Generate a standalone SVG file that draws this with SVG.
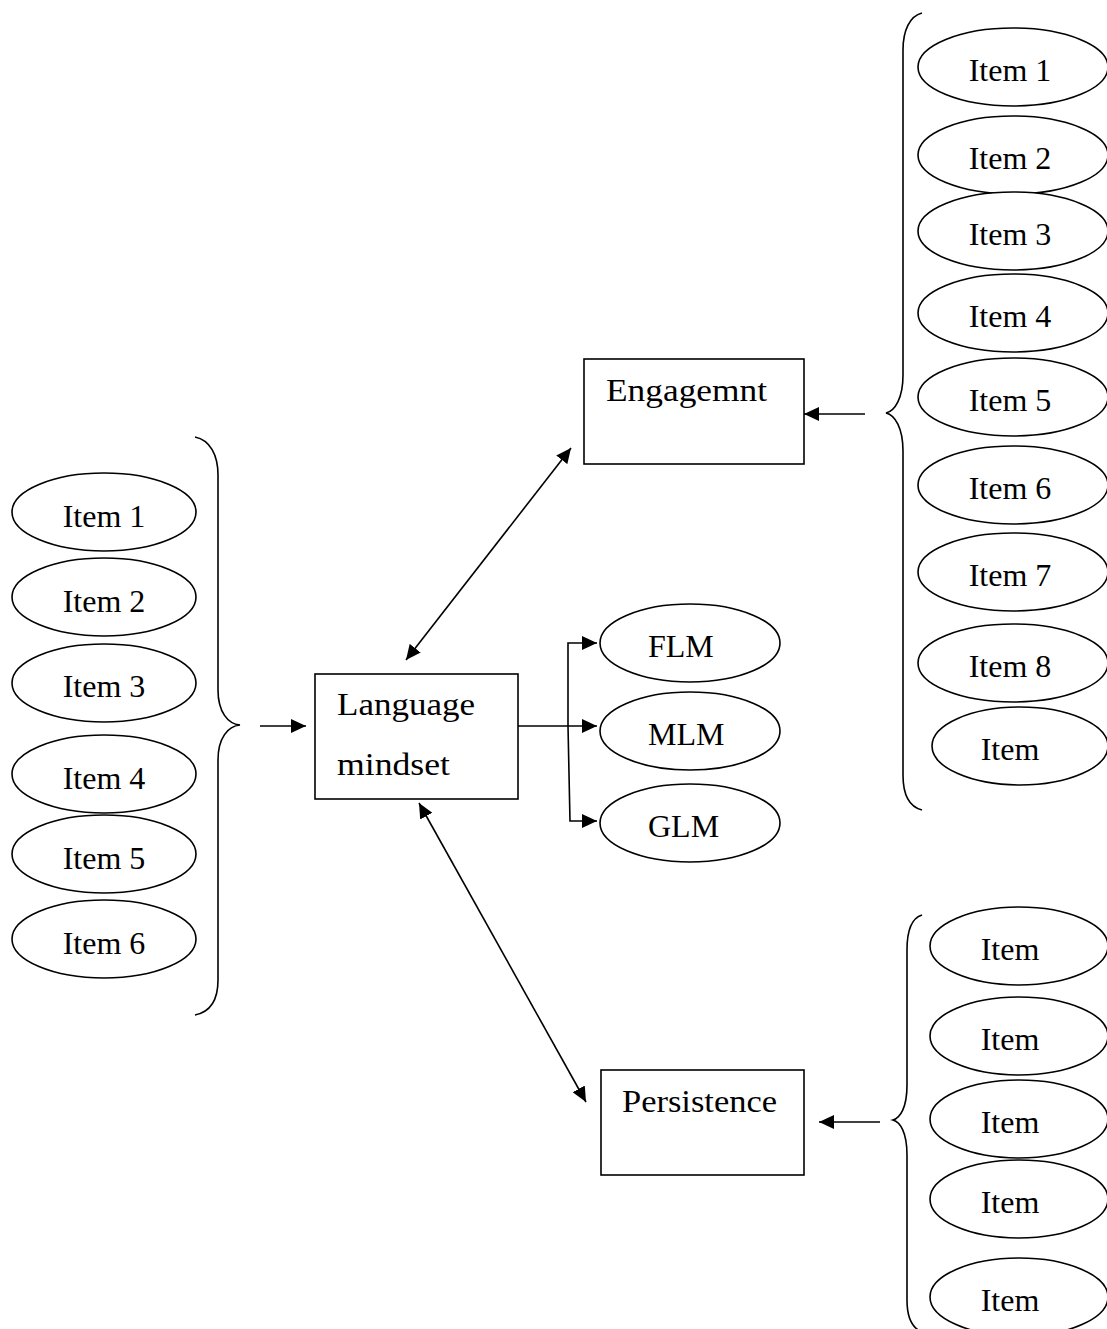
<svg xmlns="http://www.w3.org/2000/svg" width="1107" height="1329" viewBox="0 0 1107 1329">
<style>
  .shape { fill: #fff; stroke: #000; stroke-width: 1.6; }
  .line { fill: none; stroke: #000; stroke-width: 1.6; }
  text { font-family: "Liberation Serif", "Times New Roman", serif; font-size: 32px; fill: #000; }
  .c { text-anchor: middle; }
</style>
<defs>
  <marker id="ah" markerUnits="userSpaceOnUse" markerWidth="16" markerHeight="14" refX="15" refY="7" orient="auto-start-reverse">
    <path d="M0,0 L15,7 L0,14 Z" fill="#000"/>
  </marker>
</defs>

<g id="braces">
  <path class="line" d="M195,437 C210,440 218,455 218,475 L218,690 C218,712 228,724 240,725 C228,726 218,738 218,760 L218,980 C218,1000 210,1012 195,1015"/>
  <path class="line" d="M922,13 C910,16 903,30 903,50 L903,375 C903,398 895,411 886,413 C895,415 903,428 903,451 L903,775 C903,795 910,807 922,810"/>
  <path class="line" d="M922,915 C912,918 907,930 907,950 L907,1085 C907,1108 900,1118 893,1120 C900,1122 907,1132 907,1155 L907,1300 C907,1318 912,1328 922,1332"/>
</g>

<g id="connectors">
  <line class="line" x1="260" y1="726" x2="306" y2="726" marker-end="url(#ah)"/>
  <line class="line" x1="865" y1="414" x2="804" y2="414" marker-end="url(#ah)"/>
  <line class="line" x1="880" y1="1122" x2="819" y2="1122" marker-end="url(#ah)"/>
  <line class="line" x1="406" y1="660" x2="571" y2="448" marker-start="url(#ah)" marker-end="url(#ah)"/>
  <line class="line" x1="419" y1="803" x2="586" y2="1102" marker-start="url(#ah)" marker-end="url(#ah)"/>
  <line class="line" x1="518" y1="726" x2="597" y2="726" marker-end="url(#ah)"/>
  <path class="line" d="M568,726 L568,643 L597,643" marker-end="url(#ah)"/>
  <path class="line" d="M568,726 L570,821 L597,821" marker-end="url(#ah)"/>
</g>

<g id="left-items">
  <g id="l1"><ellipse class="shape" cx="104" cy="512" rx="92" ry="39"/><text class="c" x="104" y="527">Item 1</text></g>
  <g id="l2"><ellipse class="shape" cx="104" cy="597" rx="92" ry="39"/><text class="c" x="104" y="612">Item 2</text></g>
  <g id="l3"><ellipse class="shape" cx="104" cy="683" rx="92" ry="39"/><text class="c" x="104" y="697">Item 3</text></g>
  <g id="l4"><ellipse class="shape" cx="104" cy="774" rx="92" ry="39"/><text class="c" x="104" y="789">Item 4</text></g>
  <g id="l5"><ellipse class="shape" cx="104" cy="854" rx="92" ry="39"/><text class="c" x="104" y="869">Item 5</text></g>
  <g id="l6"><ellipse class="shape" cx="104" cy="939" rx="92" ry="39"/><text class="c" x="104" y="954">Item 6</text></g>
</g>

<g id="language-mindset">
  <rect class="shape" x="315" y="674" width="203" height="125"/>
  <text x="337" y="715" textLength="138" lengthAdjust="spacingAndGlyphs">Language</text>
  <text x="337" y="775" textLength="113" lengthAdjust="spacingAndGlyphs">mindset</text>
</g>

<g id="engagement">
  <rect class="shape" x="584" y="359" width="220" height="105"/>
  <text x="606" y="401" textLength="161" lengthAdjust="spacingAndGlyphs">Engagemnt</text>
</g>

<g id="persistence">
  <rect class="shape" x="601" y="1070" width="203" height="105"/>
  <text x="622" y="1112" textLength="155" lengthAdjust="spacingAndGlyphs">Persistence</text>
</g>

<g id="flm"><ellipse class="shape" cx="690" cy="643" rx="90" ry="39"/><text x="648" y="657">FLM</text></g>
<g id="mlm"><ellipse class="shape" cx="690" cy="731" rx="90" ry="39"/><text x="648" y="745">MLM</text></g>
<g id="glm"><ellipse class="shape" cx="690" cy="823" rx="90" ry="39"/><text x="648" y="837">GLM</text></g>

<g id="engagement-items">
  <g id="e1"><ellipse class="shape" cx="1013" cy="67" rx="95" ry="39"/><text class="c" x="1010" y="81">Item 1</text></g>
  <g id="e2"><ellipse class="shape" cx="1013" cy="155" rx="95" ry="39"/><text class="c" x="1010" y="169">Item 2</text></g>
  <g id="e3"><ellipse class="shape" cx="1013" cy="231" rx="95" ry="39"/><text class="c" x="1010" y="245">Item 3</text></g>
  <g id="e4"><ellipse class="shape" cx="1013" cy="313" rx="95" ry="39"/><text class="c" x="1010" y="327">Item 4</text></g>
  <g id="e5"><ellipse class="shape" cx="1013" cy="397" rx="95" ry="39"/><text class="c" x="1010" y="411">Item 5</text></g>
  <g id="e6"><ellipse class="shape" cx="1013" cy="485" rx="95" ry="39"/><text class="c" x="1010" y="499">Item 6</text></g>
  <g id="e7"><ellipse class="shape" cx="1013" cy="572" rx="95" ry="39"/><text class="c" x="1010" y="586">Item 7</text></g>
  <g id="e8"><ellipse class="shape" cx="1013" cy="663" rx="95" ry="39"/><text class="c" x="1010" y="677">Item 8</text></g>
  <g id="e9"><ellipse class="shape" cx="1020" cy="746" rx="88" ry="39"/><text class="c" x="1010" y="760">Item</text></g>
</g>

<g id="persistence-items">
  <g id="p1"><ellipse class="shape" cx="1019" cy="946" rx="89" ry="39"/><text class="c" x="1010" y="960">Item</text></g>
  <g id="p2"><ellipse class="shape" cx="1019" cy="1036" rx="89" ry="39"/><text class="c" x="1010" y="1050">Item</text></g>
  <g id="p3"><ellipse class="shape" cx="1019" cy="1119" rx="89" ry="39"/><text class="c" x="1010" y="1133">Item</text></g>
  <g id="p4"><ellipse class="shape" cx="1019" cy="1199" rx="89" ry="39"/><text class="c" x="1010" y="1213">Item</text></g>
  <g id="p5"><ellipse class="shape" cx="1019" cy="1297" rx="89" ry="39"/><text class="c" x="1010" y="1311">Item</text></g>
</g>
</svg>
